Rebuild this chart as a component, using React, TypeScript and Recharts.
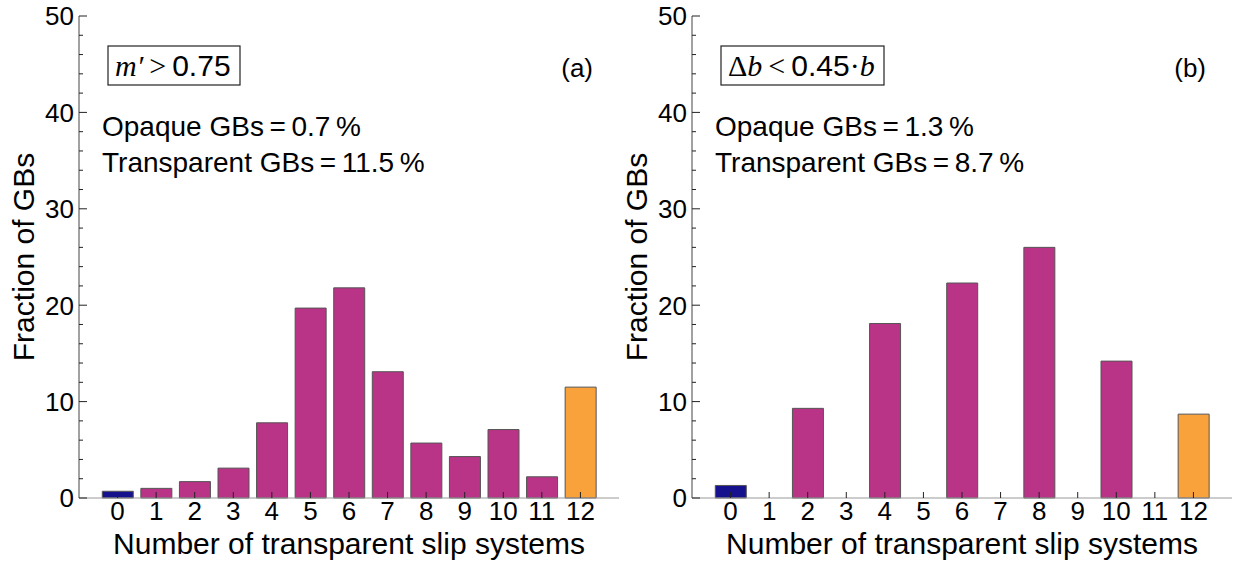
import { BarChart, Bar, Line, XAxis, YAxis, Cell } from "recharts";

const slipCounts = [0, 1, 2, 3, 4, 5, 6, 7, 8, 9, 10, 11, 12];
const fractionA = [0.7, 1.0, 1.7, 3.1, 7.8, 19.7, 21.8, 13.1, 5.7, 4.3, 7.1, 2.2, 11.5];
const fractionB = [1.3, null, 9.3, null, 18.1, null, 22.3, null, 26.0, null, 14.2, null, 8.7];
const yTicks = [0, 2, 4, 6, 8, 10, 12, 14, 16, 18, 20, 22, 24, 26, 28, 30, 32, 34, 36, 38, 40, 42, 44, 46, 48, 50];

const SANS = "'Liberation Sans', Arial, Helvetica, sans-serif";
const SERIF = "'Liberation Serif', 'DejaVu Serif', serif";
const PURPLE = "#b93387";
const NAVY = "#16118c";
const ORANGE = "#f9a23b";
const FRAME = "#444";

const barColor = (i: number) => (i === 0 ? NAVY : i === 12 ? ORANGE : PURPLE);

const BottomTick = ({ x, y, payload }: any) => (
  <g>
    <line x1={x} x2={x} y1={y} y2={y - 6} stroke="#222" />
    <text x={x} y={y + 22} textAnchor="middle" fontSize={26} fill="#000">
      {payload.value}
    </text>
  </g>
);

const TopTick = ({ x, y }: any) => <line x1={x} x2={x} y1={y} y2={y + 6} stroke="#222" />;

const LeftTick = ({ x, y, payload }: any) => {
  const major = payload.value % 10 === 0;
  return (
    <g>
      <line x1={x} x2={x + (major ? 8 : 4)} y1={y} y2={y} stroke="#222" />
      {major && (
        <text x={x - 5} y={y} dy="0.36em" textAnchor="end" fontSize={26} fill="#000">
          {payload.value}
        </text>
      )}
    </g>
  );
};

const RightTick = ({ x, y, payload }: any) => {
  const major = payload.value % 10 === 0;
  return <line x1={x} x2={x - (major ? 8 : 4)} y1={y} y2={y} stroke="#222" />;
};

function Panel({ values, left, letter, opaque, transparent, boxWidth, box }: any) {
  const data = slipCounts.map((n, i) => ({ n, v: values[i] }));
  return (
    <div style={{ position: "absolute", left, top: 0, width: 620, height: 564 }}>
      <BarChart width={620} height={564} data={data} margin={{ top: 16, right: 1, left: 0, bottom: 0 }}>
        <XAxis
          xAxisId="b"
          dataKey="n"
          type="number"
          domain={[-1, 13]}
          ticks={slipCounts}
          interval={0}
          height={66}
          tickSize={0}
          tickMargin={0}
          tickLine={false}
          axisLine={{ stroke: "#999" }}
          tick={BottomTick}
          label={{ value: "Number of transparent slip systems", position: "insideBottom", offset: 10, fontSize: 30, fill: "#000" }}
        />
        <XAxis
          xAxisId="t"
          dataKey="n"
          type="number"
          orientation="top"
          domain={[-1, 13]}
          ticks={slipCounts}
          interval={0}
          height={0}
          tickSize={0}
          tickMargin={0}
          tickLine={false}
          axisLine={{ stroke: FRAME }}
          tick={TopTick}
        />
        <YAxis
          yAxisId="l"
          domain={[0, 50]}
          ticks={yTicks}
          interval={0}
          width={79}
          tickSize={0}
          tickMargin={0}
          tickLine={false}
          axisLine={{ stroke: FRAME }}
          tick={LeftTick}
        />
        <YAxis
          yAxisId="r"
          orientation="right"
          domain={[0, 50]}
          ticks={yTicks}
          interval={0}
          width={0}
          tickSize={0}
          tickMargin={0}
          tickLine={false}
          axisLine={{ stroke: FRAME }}
          tick={RightTick}
        />
        <Bar xAxisId="b" yAxisId="l" dataKey="v" barSize={31} stroke="#555" strokeWidth={1} isAnimationActive={false}>
          {data.map((d, i) => (
            <Cell key={d.n} fill={barColor(i)} />
          ))}
        </Bar>
        <Line xAxisId="t" yAxisId="r" dataKey="v" stroke="none" dot={false} isAnimationActive={false} />
      </BarChart>
      <svg width={620} height={564} style={{ position: "absolute", left: 0, top: 0, pointerEvents: "none" }}>
        <text x={34} y={257} transform="rotate(-90 34 257)" textAnchor="middle" fontSize={30} fill="#000">
          Fraction of GBs
        </text>
        <rect x={108} y={46} width={boxWidth} height={39} fill="none" stroke="#222" strokeWidth={1.2} />
        <text x={115} y={76} fontSize={30} fill="#000">
          {box}
        </text>
        <text x={593} y={77} textAnchor="end" fontSize={26} fill="#000">
          {letter}
        </text>
        <text x={102} y={136} fontSize={28} fill="#000">
          {`Opaque GBs\u2009=\u2009${opaque}\u2009%`}
        </text>
        <text x={102} y={172} fontSize={28} fill="#000">
          {`Transparent GBs\u2009=\u2009${transparent}\u2009%`}
        </text>
      </svg>
    </div>
  );
}

export default function App() {
  const boxA = (
    <>
      <tspan fontFamily={SERIF} fontStyle="italic">m′</tspan>
      <tspan fontFamily={SERIF}>{"\u2009>\u2009"}</tspan>
      <tspan>0.75</tspan>
    </>
  );
  const boxB = (
    <>
      <tspan fontFamily={SERIF}>Δ</tspan>
      <tspan fontFamily={SERIF} fontStyle="italic">b</tspan>
      <tspan fontFamily={SERIF}>{"\u2009<\u2009"}</tspan>
      <tspan>0.45</tspan>
      <tspan fontFamily={SERIF}>·</tspan>
      <tspan fontFamily={SERIF} fontStyle="italic">b</tspan>
    </>
  );
  return (
    <div style={{ position: "absolute", left: 0, top: 0, width: 1236, height: 564, background: "#fff", fontFamily: SANS }}>
      <Panel values={fractionA} left={0} letter="(a)" opaque="0.7" transparent="11.5" boxWidth={132} box={boxA} />
      <Panel values={fractionB} left={613} letter="(b)" opaque="1.3" transparent="8.7" boxWidth={163} box={boxB} />
    </div>
  );
}
